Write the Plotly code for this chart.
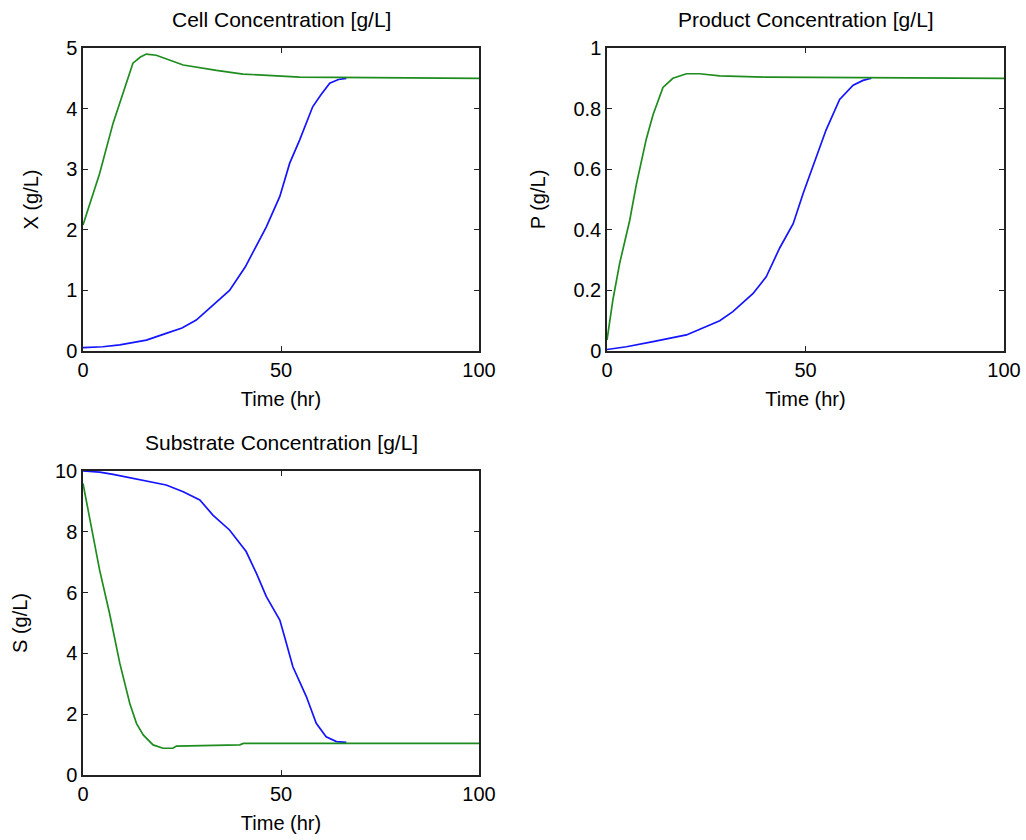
import plotly.graph_objects as go

# ---- data ----
# Cell concentration X (g/L)
t_x_blue = [0, 5, 9.3, 13, 16, 21, 25, 28.6, 32.8, 37, 41, 46.3, 49.7, 52.2, 54.7, 58, 60, 62.3, 64.5, 66.5]
x_blue = [0.055, 0.07, 0.1, 0.15, 0.18, 0.29, 0.38, 0.51, 0.76, 1.0, 1.39, 2.05, 2.55, 3.1, 3.48, 4.03, 4.22, 4.42, 4.48, 4.5]
t_x_green = [0, 4.2, 7.6, 10.9, 12.6, 14.5, 16, 18.5, 25.3, 33.7, 40.4, 54.7, 100]
x_green = [2.08, 2.93, 3.76, 4.39, 4.75, 4.85, 4.9, 4.88, 4.72, 4.63, 4.57, 4.52, 4.5]

# Product concentration P (g/L)
t_p_blue = [0, 4.9, 11.6, 20, 28.4, 31.7, 36.8, 40.1, 43.5, 46.9, 49.4, 51.9, 55.2, 58.6, 62, 64.5, 66.6]
p_blue = [0.005, 0.014, 0.031, 0.053, 0.10, 0.13, 0.19, 0.245, 0.34, 0.42, 0.52, 0.61, 0.73, 0.83, 0.877, 0.893, 0.90]
t_p_green = [0, 1.5, 3.2, 5.7, 7.4, 9.9, 11.6, 14.1, 16.6, 20, 23.3, 28.4, 40, 100]
p_green = [0.036, 0.17, 0.29, 0.43, 0.55, 0.70, 0.78, 0.87, 0.90, 0.915, 0.915, 0.908, 0.904, 0.90]

# Substrate concentration S (g/L)
t_s_blue = [0, 4.2, 7.6, 12.6, 16.8, 21, 25.3, 29.5, 32.8, 37, 41.2, 43.8, 46.3, 49.7, 50.9, 53, 56.4, 58.9, 61.4, 64, 66.5]
s_blue = [10.0, 9.96, 9.89, 9.76, 9.65, 9.54, 9.32, 9.05, 8.55, 8.06, 7.35, 6.63, 5.87, 5.10, 4.55, 3.56, 2.58, 1.70, 1.26, 1.10, 1.07]
t_s_green = [0, 2.5, 4.2, 6.7, 9.3, 11.8, 13.5, 15.2, 17.7, 20.2, 22.7, 23.6, 39.6, 40.5, 100]
s_green = [9.59, 7.84, 6.74, 5.32, 3.67, 2.36, 1.70, 1.32, 0.99, 0.88, 0.88, 0.95, 0.99, 1.04, 1.04]

titles = ["Cell Concentration [g/L]", "Product Concentration [g/L]", "Substrate Concentration [g/L]"]
ylabels = ["X (g/L)", "P (g/L)", "S (g/L)"]
xlabel = "Time (hr)"
x_ticks = [0, 50, 100]
y_ticks = [[0, 1, 2, 3, 4, 5], [0, 0.2, 0.4, 0.6, 0.8, 1], [0, 2, 4, 6, 8, 10]]
y_ticktext = [["0", "1", "2", "3", "4", "5"], ["0", "0.2", "0.4", "0.6", "0.8", "1"],
              ["0", "2", "4", "6", "8", "10"]]
y_ranges = [[0, 5], [0, 1], [0, 10]]

BLUE = "rgb(20,20,255)"
GREEN = "rgb(30,140,30)"
FONT = "Liberation Sans"
FS = 20

W, H = 1026, 840


def dx(a, b):
    return [a / W, b / W]


def dy(top, bottom):
    return [1 - bottom / H, 1 - top / H]


fig = go.Figure()

panels = [
    (t_x_blue, x_blue, t_x_green, x_green),
    (t_p_blue, p_blue, t_p_green, p_green),
    (t_s_blue, s_blue, t_s_green, s_green),
]
domains_x = [dx(83, 479), dx(607, 1004), dx(83, 479)]
domains_y = [dy(48, 351), dy(48, 351), dy(471, 775)]

for i, (tb, yb, tg, yg) in enumerate(panels):
    n = "" if i == 0 else str(i + 1)
    fig.add_trace(go.Scatter(x=tb, y=yb, mode="lines", line=dict(color=BLUE, width=1.7),
                             xaxis="x" + n, yaxis="y" + n, showlegend=False))
    fig.add_trace(go.Scatter(x=tg, y=yg, mode="lines", line=dict(color=GREEN, width=1.7),
                             xaxis="x" + n, yaxis="y" + n, showlegend=False))
    axis_common = dict(showline=True, linecolor="#222", linewidth=1.5, mirror="ticks",
                       ticks="inside", ticklen=5, tickcolor="#222", tickwidth=1,
                       showgrid=False, zeroline=False, automargin=False,
                       tickfont=dict(family=FONT, size=FS, color="black"))
    fig.layout["xaxis" + n] = dict(domain=domains_x[i], range=[0, 100], tickvals=x_ticks,
                                   anchor="y" + n,
                                   title=dict(text=xlabel, font=dict(family=FONT, size=FS, color="black"),
                                              standoff=12),
                                   **axis_common)
    fig.layout["yaxis" + n] = dict(domain=domains_y[i], range=y_ranges[i], tickvals=y_ticks[i],
                                   ticktext=y_ticktext[i], anchor="x" + n,
                                   title=dict(text=ylabels[i], font=dict(family=FONT, size=FS, color="black"),
                                              standoff=22),
                                   **axis_common)
    fig.add_annotation(text=titles[i], xref="paper", yref="paper",
                       x=(domains_x[i][0] + domains_x[i][1]) / 2, y=domains_y[i][1],
                       yshift=15, xanchor="center", yanchor="bottom", showarrow=False,
                       font=dict(family=FONT, size=21, color="black"))

fig.update_layout(width=W, height=H, margin=dict(l=0, r=0, t=0, b=0),
                  plot_bgcolor="white", paper_bgcolor="white")

fig.write_html("out.html", config={"displayModeBar": False},
               post_script="document.body.style.margin='0';document.body.style.overflow='hidden';")
